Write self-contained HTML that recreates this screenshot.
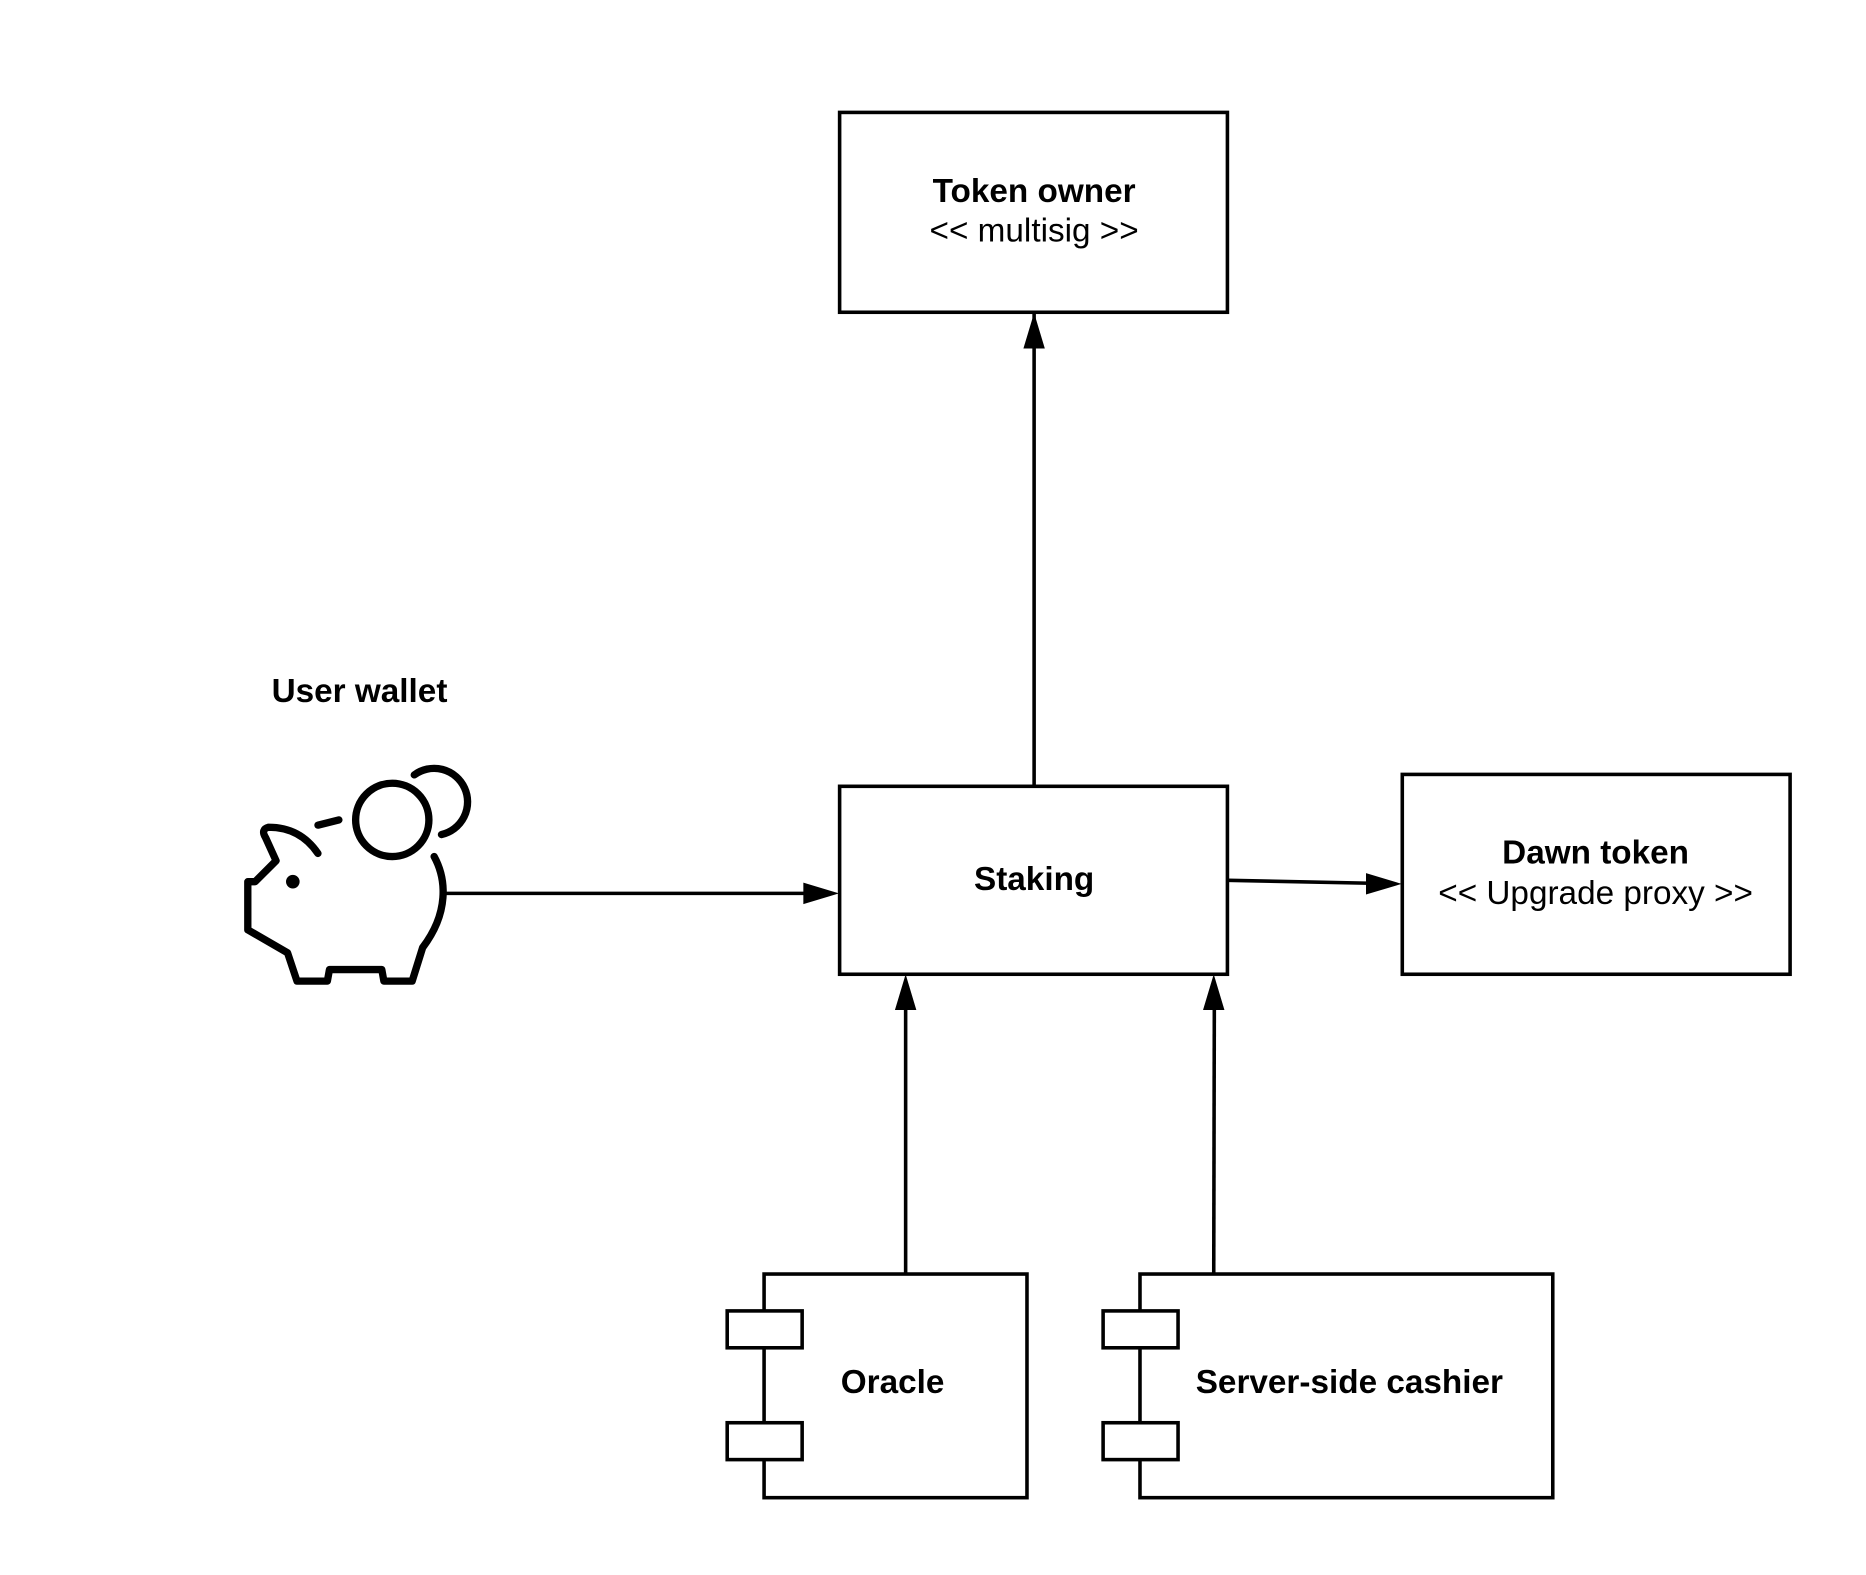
<!DOCTYPE html>
<html><head><meta charset="utf-8"><style>html,body{margin:0;padding:0;background:#fff}svg{display:block}</style></head><body>
<svg width="1866" height="1575" viewBox="0 0 1568 1324" xmlns="http://www.w3.org/2000/svg" font-family="Liberation Sans, sans-serif">
<g fill="none" stroke="#000" stroke-width="3">
<rect x="705.5" y="94.5" width="326" height="168" fill="#fff"/>
<rect x="705.5" y="661" width="326" height="158" fill="#fff"/>
<rect x="1178.5" y="651" width="326" height="168" fill="#fff"/>
<rect x="642" y="1071" width="221" height="188" fill="#fff"/>
<rect x="611" y="1102" width="63" height="31" fill="#fff"/>
<rect x="611" y="1196" width="63" height="31" fill="#fff"/>
<rect x="958" y="1071" width="347" height="188" fill="#fff"/>
<rect x="927" y="1102" width="63" height="31" fill="#fff"/>
<rect x="927" y="1196" width="63" height="31" fill="#fff"/>
</g>
<g stroke="#000" stroke-width="3" fill="none">
<line x1="869" y1="661" x2="869" y2="263" />
<line x1="371" y1="751" x2="680" y2="751"/>
<line x1="1032" y1="740" x2="1152" y2="742.5"/>
<line x1="761" y1="1071" x2="761" y2="845"/>
<line x1="1020" y1="1071" x2="1020.5" y2="845"/>
</g>
<g fill="#000">
<path d="M869,263 L860,293 L878,293 z"/>
<path d="M705,751 L675,742 L675,760 z"/>
<path d="M1178,743 L1148,734 L1148,752 z"/>
<path d="M761,819 L752,849 L770,849 z"/>
<path d="M1020,819 L1011,849 L1029,849 z"/>
</g>
<g font-size="28" text-anchor="middle" fill="#000">
<text x="869" y="170" font-weight="bold">Token owner</text>
<text x="869" y="203">&lt;&lt; multisig &gt;&gt;</text>
<text x="869" y="748" font-weight="bold">Staking</text>
<text x="1341" y="726" font-weight="bold">Dawn token</text>
<text x="1341" y="760">&lt;&lt; Upgrade proxy &gt;&gt;</text>
<text x="750" y="1171" font-weight="bold">Oracle</text>
<text x="1134" y="1171" font-weight="bold">Server-side cashier</text>
<text x="228" y="590" font-weight="bold" text-anchor="start">User wallet</text>
</g>
<g transform="translate(-12,-35) scale(0.88)" fill="none" stroke="#000" stroke-width="7" stroke-linecap="round" stroke-linejoin="round">
<path d="M317,855 Q300,830 270,830 Q262,832 267,840 L277,862 L257,882 L250,882 L250,928 L288,950 L297,977 L326,977 L328,966 L378,966 L380,977 L407,977 L417,945 C442,912 440,880 428,858"/>
<line x1="317" y1="828" x2="337" y2="823"/>
<circle cx="388" cy="823" r="35"/>
<path d="M409,780 A32,32 0 1 1 435,837"/>
<circle cx="293" cy="882" r="3" fill="#000"/>
</g>
</svg>
</body></html>
